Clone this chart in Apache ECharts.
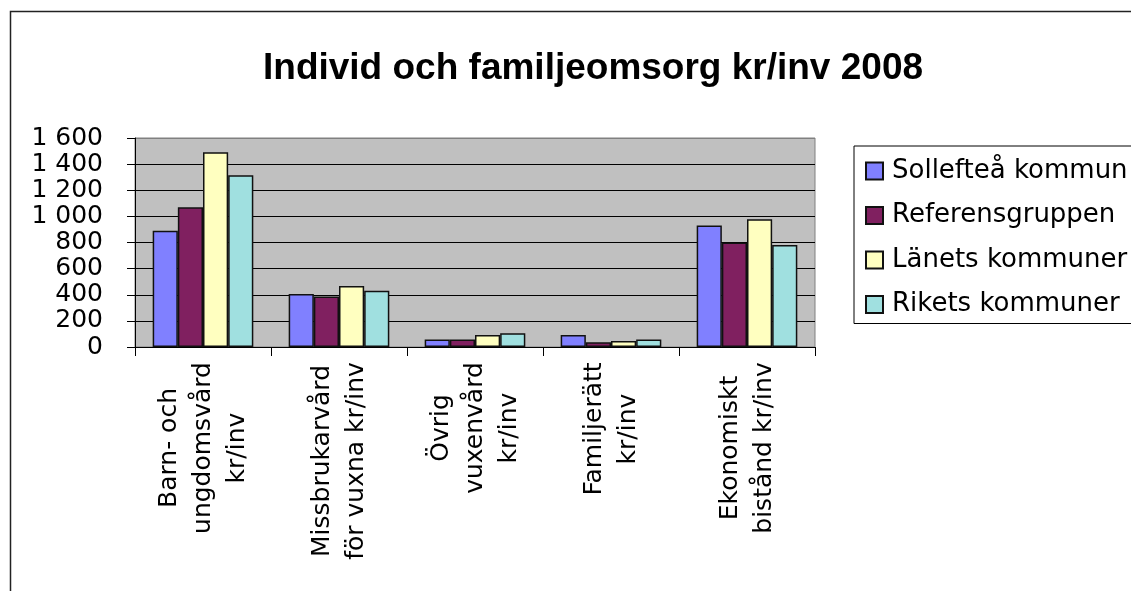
<!DOCTYPE html>
<html>
<head>
<meta charset="utf-8">
<script src="https://cdn.jsdelivr.net/npm/echarts@6/dist/echarts.min.js"></script>
<style>
    html, body { margin: 0; padding: 0; background: #fff; }
    #chart { width: 1131px; height: 591px; }
</style>
</head>
<body>
<div id="chart"></div>
<script>
// data
const categories = [
    'Barn- och\nungdomsvård\nkr/inv',
    'Missbrukarvård\nför vuxna kr/inv',
    'Övrig\nvuxenvård\nkr/inv',
    'Familjerätt\nkr/inv',
    'Ekonomiskt\nbistånd kr/inv'
];
const seriesNames = ['Sollefteå kommun', 'Referensgruppen', 'Länets kommuner', 'Rikets kommuner'];
const solleftea = [890, 405, 57, 92, 930];
const referens = [1070, 386, 57, 36, 800];
const lanet = [1490, 467, 92, 46, 978];
const riket = [1315, 430, 105, 57, 780];
const colors = ['#8080FF', '#802060', '#FFFFC0', '#A0E0E0'];

const FONT = '"DejaVu Sans", sans-serif';
const FS = 25;

// multi-line labels: lines centred inside the block, so measure the longest line
const ctx = document.createElement('canvas').getContext('2d');
ctx.font = FS + 'px "DejaVu Sans"';
const rich = {};
categories.forEach((c, i) => {
    const w = Math.max(...c.split('\n').map(l => ctx.measureText(l).width));
    rich['c' + i] = { width: Math.ceil(w), align: 'center', fontSize: FS, fontFamily: FONT, color: '#000', lineHeight: 34 };
});

const chart = echarts.init(document.getElementById('chart'));
const makeSeries = (name, data, i) => ({
    name: name,
    type: 'bar',
    data: data,
    barGap: 0,
    barCategoryGap: '26%',
    itemStyle: { color: colors[i], borderColor: '#111', borderWidth: 1.5 }
});

const option = {
    animation: false,
    title: {
        text: 'Individ och familjeomsorg kr/inv 2008',
        left: 258,
        top: 45,
        textStyle: { fontFamily: '"Liberation Sans", Arial, sans-serif', fontWeight: 'bold', fontSize: 37, color: '#000' }
    },
    legend: {
        orient: 'vertical',
        left: 854,
        top: 146,
        padding: [12, 30, 6, 11],
        borderColor: '#000',
        borderWidth: 1,
        itemWidth: 17,
        itemHeight: 17,
        itemGap: 18.5,
        icon: 'rect',
        textStyle: { fontFamily: FONT, fontSize: 26, color: '#000', padding: [0, 0, 0, 4] },
        data: seriesNames
    },
    grid: {
        left: 135,
        right: 316,
        top: 138,
        bottom: 244,
        show: true,
        backgroundColor: '#C0C0C0',
        borderColor: '#808080',
        borderWidth: 1
    },
    xAxis: {
        type: 'category',
        data: categories,
        axisLine: { lineStyle: { color: '#000', width: 1 } },
        axisTick: { show: true, interval: 0, length: 9, lineStyle: { color: '#000' } },
        axisLabel: {
            interval: 0,
            rotate: 90,
            margin: 15,
            formatter: (v, i) => v.split('\n').map(l => '{c' + i + '|' + l + '}').join('\n'),
            rich: rich
        }
    },
    yAxis: {
        type: 'value',
        min: 0,
        max: 1600,
        interval: 200,
        axisLine: { show: true, lineStyle: { color: '#000' } },
        axisTick: { show: true, length: 8, lineStyle: { color: '#000' } },
        axisLabel: {
            margin: 32,
            fontFamily: FONT,
            fontSize: FS,
            color: '#000',
            formatter: v => String(v).replace(/\B(?=(\d{3})+(?!\d))/g, ' ')
        },
        splitLine: {
            lineStyle: {
                color: ['#000', '#000', '#000', '#000', '#000', '#000', '#000', '#000', '#808080'],
                width: 1
            }
        }
    },
    // outer chart frame, right and bottom edge fall outside the window
    graphic: [{
        type: 'rect',
        shape: { x: 10.5, y: 11.5, width: 1300, height: 700 },
        style: { fill: 'none', stroke: '#222', lineWidth: 1.5 },
        silent: true
    }],
    series: [
        makeSeries(seriesNames[0], solleftea, 0),
        makeSeries(seriesNames[1], referens, 1),
        makeSeries(seriesNames[2], lanet, 2),
        makeSeries(seriesNames[3], riket, 3)
    ]
};
chart.setOption(option);
</script>
</body>
</html>
